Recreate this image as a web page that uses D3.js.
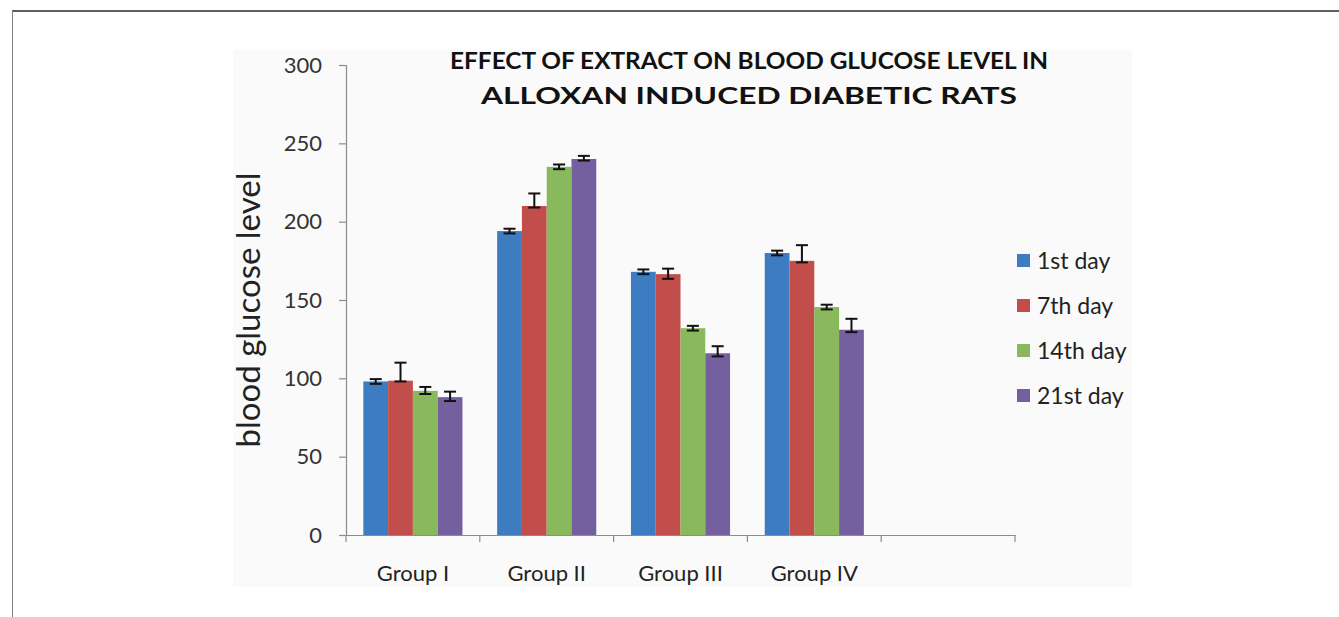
<!DOCTYPE html>
<html><head><meta charset="utf-8">
<script src="https://cdn.jsdelivr.net/npm/d3@7"></script>
<style>html,body{margin:0;padding:0;background:#fff;}svg{display:block;}</style>
</head><body>
<svg id="c" width="1339" height="617"></svg>
<script>
const groups = ["Group I", "Group II", "Group III", "Group IV", ""];
const seriesNames = ["1st day", "7th day", "14th day", "21st day"];
const seriesColors = ["#3d7cc0", "#c24e4b", "#8ab85c", "#74609f"];
const values = [
  [98, 194, 168, 180],
  [98.5, 210, 166.5, 175],
  [92, 235, 132, 145.5],
  [88, 240, 116, 131]
];
const errPlus = [
  [1.5, 1.5, 1.5, 1.5],
  [11.5, 8, 3.5, 10],
  [2.5, 1.5, 1.5, 1.5],
  [3.5, 2, 4.5, 7]
];
const errMinus = [
  [1.5, 1.5, 1.5, 1.5],
  [0.5, 1, 3, 1],
  [2, 1.5, 1.5, 1.5],
  [2.5, 1, 2, 1.5]
];
const yTicks = [0, 50, 100, 150, 200, 250, 300];
const titleLines = ["EFFECT OF EXTRACT ON BLOOD GLUCOSE LEVEL IN", "ALLOXAN INDUCED DIABETIC RATS"];
const yTitle = "blood glucose level";

const svg = d3.select("#c");
// outer frame
svg.append("line").attr("x1", 12).attr("x2", 1339).attr("y1", 11).attr("y2", 11).attr("stroke", "#606060").attr("stroke-width", 2);
svg.append("line").attr("x1", 12.5).attr("x2", 12.5).attr("y1", 11).attr("y2", 617).attr("stroke", "#808080").attr("stroke-width", 1);
// chart area background
svg.append("rect").attr("x", 233).attr("y", 50).attr("width", 899).attr("height", 537).attr("fill", "#fafafa");

const pLeft = 346, pRight = 1015, pTop = 65, pBottom = 535;
const x = d3.scaleBand().domain(groups).range([pLeft, pRight]).paddingInner(0).paddingOuter(0);
const xs = d3.scaleBand().domain(seriesNames).range([0, x.bandwidth()]).paddingInner(0).paddingOuter(0.7);
const y = d3.scaleLinear().domain([0, 300]).range([pBottom, pTop]);

// bars
seriesNames.forEach((s, si) => {
  groups.slice(0, 4).forEach((g, gi) => {
    const v = values[si][gi];
    svg.append("rect")
      .attr("x", x(g) + xs(s)).attr("y", y(v))
      .attr("width", xs.bandwidth()).attr("height", y(0) - y(v))
      .attr("fill", seriesColors[si]);
  });
});
// error bars
seriesNames.forEach((s, si) => {
  groups.slice(0, 4).forEach((g, gi) => {
    const v = values[si][gi];
    const cx = x(g) + xs(s) + xs.bandwidth() / 2;
    const y1 = y(v + errPlus[si][gi]), y2 = y(v - errMinus[si][gi]);
    const e = svg.append("g").attr("stroke", "#111").attr("stroke-width", 2);
    e.append("line").attr("x1", cx).attr("x2", cx).attr("y1", y1).attr("y2", y2);
    e.append("line").attr("x1", cx - 6).attr("x2", cx + 6).attr("y1", y1).attr("y2", y1);
    e.append("line").attr("x1", cx - 6).attr("x2", cx + 6).attr("y1", y2).attr("y2", y2);
  });
});

// y axis
const yAxis = svg.append("g").attr("transform", `translate(${pLeft},0)`)
  .call(d3.axisLeft(y).tickValues(yTicks).tickSize(7).tickPadding(17));
yAxis.select(".domain").attr("stroke", "#8c8c8c").attr("stroke-width", 1.2);
yAxis.selectAll(".tick line").attr("stroke", "#8c8c8c").attr("stroke-width", 1.2);
yAxis.selectAll(".tick text").attr("font-family", "Lato, 'Open Sans', sans-serif").attr("font-size", 22).attr("fill", "#333");

// x axis
const xAxis = svg.append("g").attr("transform", `translate(0,${pBottom})`)
  .call(d3.axisBottom(x).tickSize(0).tickPadding(30));
xAxis.select(".domain").attr("stroke", "#8c8c8c").attr("stroke-width", 1.2);
xAxis.selectAll(".tick text").attr("font-family", "Lato, 'Open Sans', sans-serif").attr("font-size", 22).attr("fill", "#222");
// category boundary ticks
const bounds = groups.map(g => x(g)).concat([x(groups[groups.length - 1]) + x.bandwidth()]);
svg.append("g").selectAll("line").data(bounds).join("line")
  .attr("x1", d => d).attr("x2", d => d).attr("y1", pBottom).attr("y2", pBottom + 7)
  .attr("stroke", "#8c8c8c").attr("stroke-width", 1.2);

// y title
svg.append("text").attr("transform", "translate(260,310) rotate(-90)")
  .attr("text-anchor", "middle").attr("font-family", "Lato, 'Open Sans', sans-serif")
  .attr("font-size", 33).attr("fill", "#222").text(yTitle);

// title
const tl = [[69, 598], [104, 536]];
titleLines.forEach((t, i) => {
  svg.append("text").attr("x", 749).attr("y", tl[i][0]).attr("text-anchor", "middle")
    .attr("font-family", "Lato, 'Open Sans', sans-serif").attr("font-weight", "bold")
    .attr("font-size", 23).attr("fill", "#111")
    .attr("textLength", tl[i][1]).attr("lengthAdjust", "spacingAndGlyphs").text(t);
});

// legend
const lg = svg.append("g");
seriesNames.forEach((s, i) => {
  const cy = 261 + i * 45;
  lg.append("rect").attr("x", 1017).attr("y", cy - 7).attr("width", 13).attr("height", 13).attr("fill", seriesColors[i]);
  lg.append("text").attr("x", 1037).attr("y", cy).attr("dy", "0.35em")
    .attr("font-family", "Lato, 'Open Sans', sans-serif").attr("font-size", 23).attr("fill", "#222").text(s);
});
</script>
</body></html>
